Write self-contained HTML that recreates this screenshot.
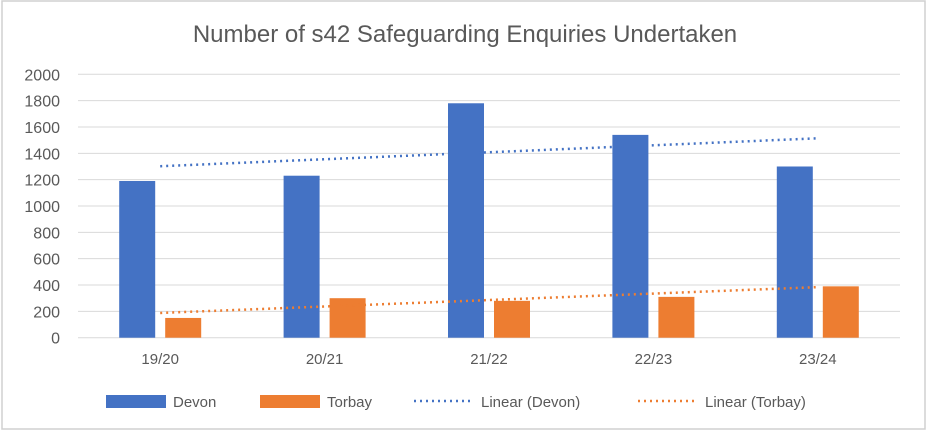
<!DOCTYPE html>
<html><head><meta charset="utf-8"><style>
body{margin:0;background:#fff;font-family:"Liberation Sans",sans-serif}
#wrap{position:relative;width:928px;height:431px}
</style></head><body>
<div id="wrap">
<svg id="chart" width="928" height="431">
<rect x="2" y="1" width="923" height="428" fill="#fff" stroke="#d0d0d0" stroke-width="1.5"/>
<text x="465" y="42" text-anchor="middle" font-size="24" fill="#595959">Number of s42 Safeguarding Enquiries Undertaken</text>
<g id="grid"></g><g id="bars"></g><g id="trends"></g><g id="xlabels"></g>
<g font-size="15" fill="#595959">
<rect x="106" y="395" width="60" height="13" fill="#4472c4"/>
<text x="173" y="407">Devon</text>
<rect x="260" y="395" width="60" height="13" fill="#ed7d31"/>
<text x="327" y="407">Torbay</text>
<line x1="414" y1="401" x2="474" y2="401" stroke="#4472c4" stroke-width="2.5" stroke-dasharray="2 4"/>
<text x="481" y="407">Linear (Devon)</text>
<line x1="638" y1="401" x2="698" y2="401" stroke="#ed7d31" stroke-width="2.5" stroke-dasharray="2 4"/>
<text x="705" y="407">Linear (Torbay)</text>
</g>
</svg></div>
<script>
const categories=["19/20","20/21","21/22","22/23","23/24"];
const devon=[1190,1230,1780,1540,1300];
const torbay=[150,300,280,310,390];
const yTicks=[0,200,400,600,800,1000,1200,1400,1600,1800,2000];
const NS="http://www.w3.org/2000/svg";
const plotLeft=78,plotRight=900,plotTop=74.3,plotBottom=337.7,yMax=2000;
const band=(plotRight-plotLeft)/categories.length;
const yScale=v=>plotBottom-(v/yMax)*(plotBottom-plotTop);
const xc=i=>plotLeft+band*(i+0.5);
function mk(t,a,p){const e=document.createElementNS(NS,t);for(const k in a)e.setAttribute(k,a[k]);p.appendChild(e);return e;}
const grid=document.getElementById('grid');
yTicks.forEach(v=>{
 const l=mk('line',{x1:plotLeft,x2:plotRight,y1:yScale(v),y2:yScale(v),stroke:'#d9d9d9','stroke-width':1},grid);
 
 
 const t=mk('text',{x:60,y:yScale(v)+6,'text-anchor':'end','font-size':16,fill:'#595959'},grid);
 t.textContent=v;
 
 
});
const bars=document.getElementById('bars');
const bw=36;
categories.forEach((c,i)=>{
 const b1=mk('rect',{x:xc(i)-41,y:yScale(devon[i]),width:bw,height:plotBottom-yScale(devon[i]),fill:'#4472c4'},bars);
 
 
 const b2=mk('rect',{x:xc(i)+5,y:yScale(torbay[i]),width:bw,height:plotBottom-yScale(torbay[i]),fill:'#ed7d31'},bars);
 
 
 const t=mk('text',{x:xc(i),y:364,'text-anchor':'middle','font-size':15,fill:'#595959'},document.getElementById('xlabels'));
 t.textContent=c;
 
 
});
function fit(arr){const n=arr.length,mx=(n-1)/2,my=arr.reduce((a,b)=>a+b,0)/n;let num=0,den=0;arr.forEach((v,i)=>{num+=(i-mx)*(v-my);den+=(i-mx)*(i-mx);});const s=num/den;return [my-s*mx,my+s*(n-1-mx)];}
const tr=document.getElementById('trends');
[[devon,'#4472c4','trendline-devon'],[torbay,'#ed7d31','trendline-torbay']].forEach(([arr,col,name])=>{
 const [a,b]=fit(arr);
 const l=mk('line',{x1:xc(0),y1:yScale(a),x2:xc(arr.length-1),y2:yScale(b),stroke:col,'stroke-width':2.5,'stroke-dasharray':'2 4'},tr);
 
 
});
</script>
</body></html>
